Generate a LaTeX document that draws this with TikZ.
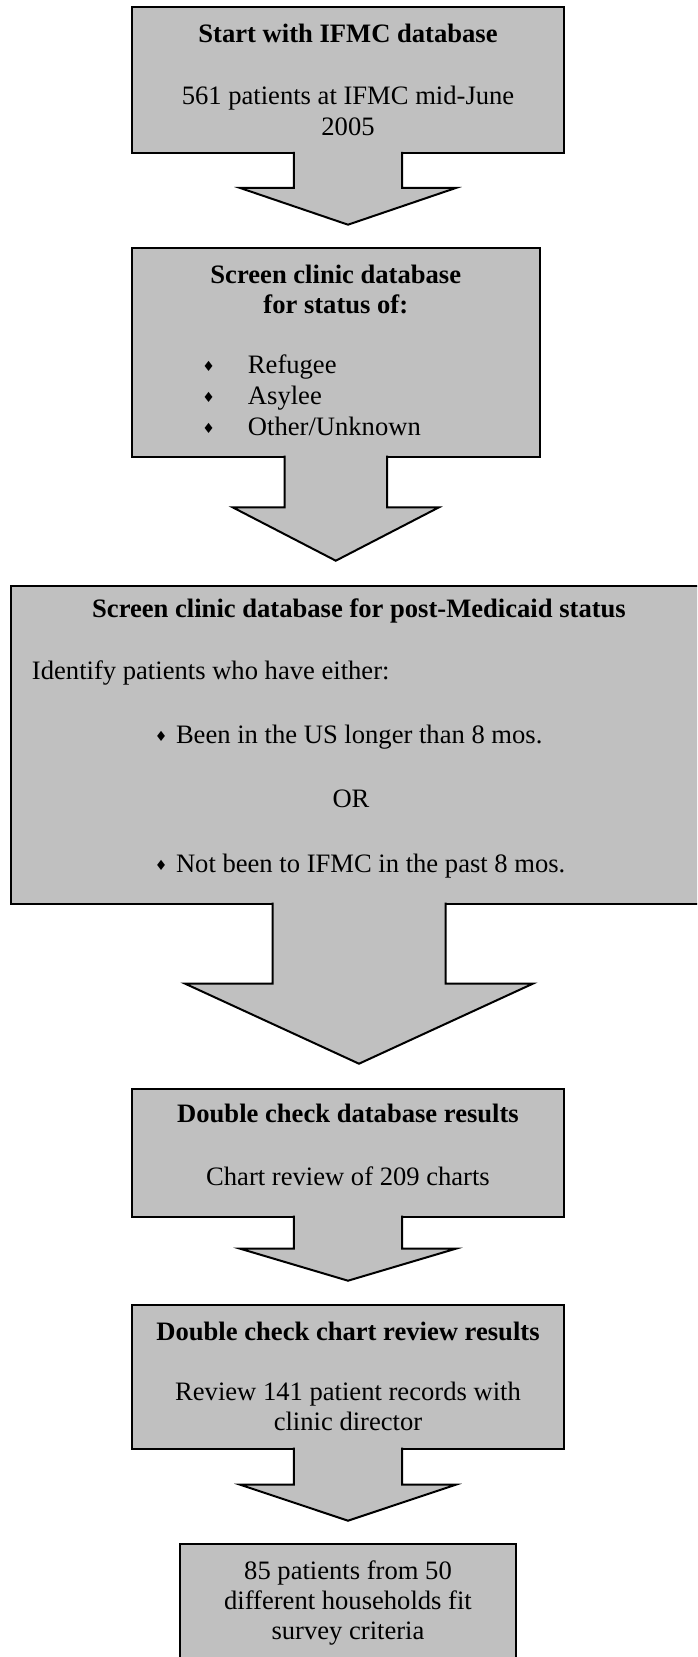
\documentclass[tikz,border=0pt]{standalone}
\usepackage{fontspec}
\setmainfont{Liberation Serif}
\newfontfamily\symfont{DejaVu Sans}
\usepackage{tikz}
\usetikzlibrary{positioning, calc}

\definecolor{boxgray}{RGB}{192,192,192}
\newcommand{\dia}{{\symfont\fontsize{7}{7}\selectfont\raisebox{1.3pt}{♦}}}
% block arrow under a box: node, shaft half width, head half width, shaft length, head length
\newcommand{\flowarrow}[5]{%
  \fill[boxgray] ($(#1.south)+(-#2,1)$) -- ($(#1.south)+(-#2,-#4)$) -- ($(#1.south)+(-#3,-#4)$)
    -- ($(#1.south)+(0,-#4-#5)$) -- ($(#1.south)+(#3,-#4)$) -- ($(#1.south)+(#2,-#4)$)
    -- ($(#1.south)+(#2,1)$) -- cycle;
  \draw[arrline] ($(#1.south)+(-#2,1)$) -- ($(#1.south)+(-#2,-#4)$) -- ($(#1.south)+(-#3,-#4)$)
    -- ($(#1.south)+(0,-#4-#5)$) -- ($(#1.south)+(#3,-#4)$) -- ($(#1.south)+(#2,-#4)$)
    -- ($(#1.south)+(#2,1)$);
}

\begin{document}
\begin{tikzpicture}[
  x=0.5pt, y=0.5pt,
  box/.style={draw, line width=1pt, fill=boxgray, inner xsep=0pt, inner ysep=0pt, outer sep=0pt,
    align=center, font=\fontsize{13.3}{15.5}\selectfont},
  arrline/.style={line width=1pt}
]
\useasboundingbox (0,0) rectangle (697,-1657);
\clip (0,0) rectangle (697,-1657);

\node[box, anchor=north, minimum width=216.4pt] (b1) at (348,-7.3)
  {\rule{0pt}{17.7pt}\textbf{Start with IFMC database}\\[15.5pt]
   561 patients at IFMC mid-June\\2005\rule[-8.65pt]{0pt}{8.65pt}};
\node[box, below=47.5pt of b1, xshift=-6.1pt, minimum width=204.2pt] (b2)
  {\rule{0pt}{17.85pt}\textbf{Screen clinic database}\\[-0.5pt]\textbf{for status of:}\\[14.5pt]
   \begin{tabular}[t]{@{}l@{}l@{}}
   \makebox[22.8pt][l]{\dia} & Refugee\\
   \makebox[22.8pt][l]{\dia} & Asylee\\
   \makebox[22.8pt][l]{\dia} & Other/Unknown\rule[-10.5pt]{0pt}{10.5pt}
   \end{tabular}\hspace{24.2pt}\null};
\node[box, below=64.5pt of b2, xshift=11.6pt, minimum width=348pt, inner xsep=10.5pt,
  text width=327pt, align=left] (b3)
  {\spaceskip0pt\xspaceskip0pt
   \rule{0pt}{16pt}\makebox[\linewidth]{\textbf{Screen clinic database for post-Medicaid status}}\\[15.5pt]
   Identify patients who have either:\\[16.5pt]
   \hspace*{61.5pt}\makebox[10.5pt][l]{\dia}Been in the US longer than 8 mos.\\[16.5pt]
   \makebox[\linewidth]{OR\hspace{8pt}}\\[17pt]
   \hspace*{61.5pt}\makebox[10.5pt][l]{\dia}Not been to IFMC in the past 8 mos.\rule[-15.5pt]{0pt}{15.5pt}};
\node[box, below=92.5pt of b3, xshift=-5.5pt, minimum width=216.4pt] (b4)
  {\rule{0pt}{17pt}\textbf{Double check database results}\\[16pt]
   Chart review of 209 charts\rule[-15.5pt]{0pt}{15.5pt}};
\node[box, below=44pt of b4, minimum width=216.4pt] (b5)
  {\rule{0pt}{17.75pt}\textbf{Double check chart review results}\\[14.75pt]
   Review 141 patient records with\\[-0.5pt]clinic director\rule[-9pt]{0pt}{9pt}};
\node[box, below=47.85pt of b5, minimum width=168.4pt] (b6)
  {\rule{0pt}{17.65pt}85 patients from 50\\[-0.5pt]different households fit\\[-0.5pt]
   survey criteria\rule[-15.3pt]{0pt}{15.3pt}};

\flowarrow{b1}{54.2}{107.8}{35}{36.7}
\flowarrow{b2}{51.2}{103}{50.7}{53.3}
\flowarrow{b3}{86.5}{173.8}{80}{80}
\flowarrow{b4}{54.2}{107.8}{32}{32}
\flowarrow{b5}{54.2}{107.8}{36}{36}
\end{tikzpicture}
\end{document}
